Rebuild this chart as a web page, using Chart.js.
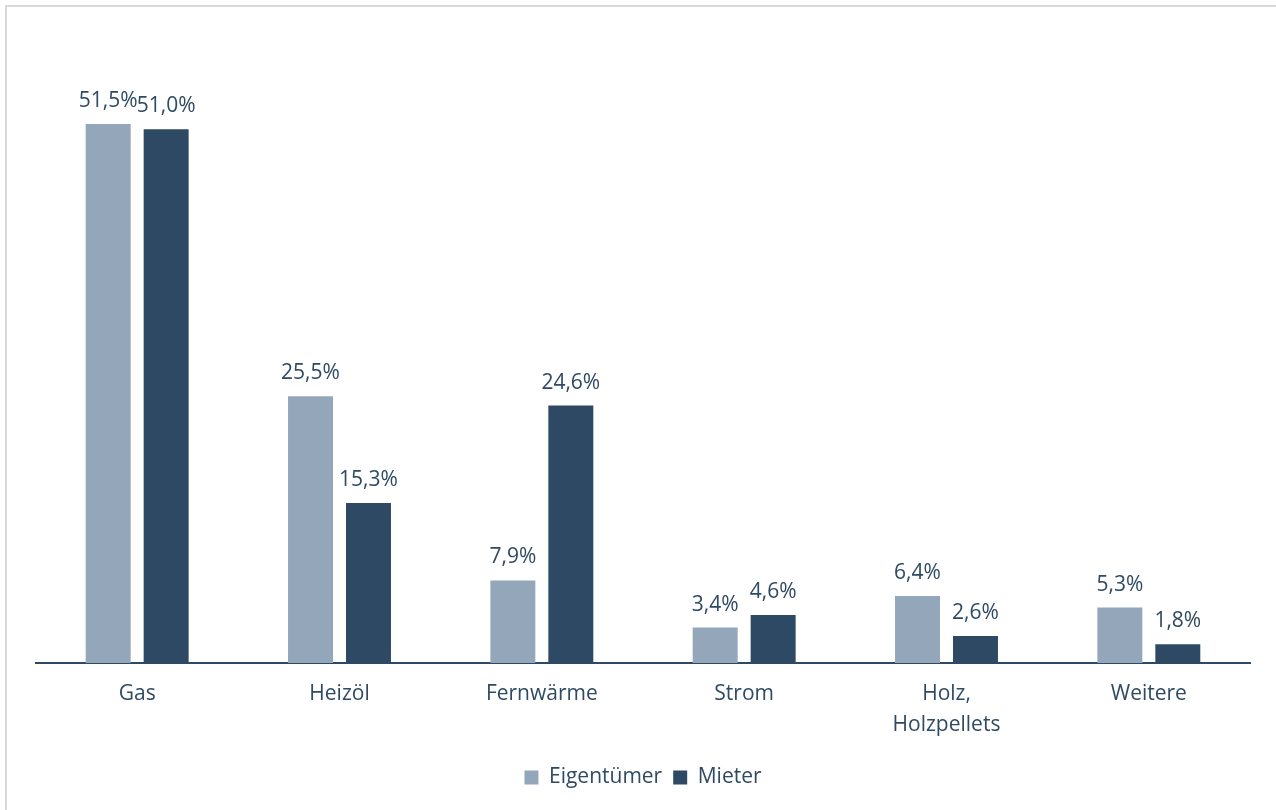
<!DOCTYPE html>
<html>
<head>
<meta charset="utf-8">
<script src="https://cdn.jsdelivr.net/npm/chart.js@4/dist/chart.umd.min.js"></script>
<style>
  html, body { margin: 0; padding: 0; background: #ffffff; overflow: hidden; }
  #frame { position: absolute; left: 5px; top: 5px; width: 1400px; height: 900px;
           border-left: 2px solid #d9d9d9; border-top: 2px solid #d9d9d9; }
  #wrap { position: absolute; left: 0; top: 0; width: 1276px; height: 810px; }
</style>
</head>
<body>
<div id="frame"></div>
<div id="wrap"><canvas id="c" width="1276" height="810"></canvas></div>
<script>
const categories = ['Gas', 'Heizöl', 'Fernwärme', 'Strom', ['Holz,', 'Holzpellets'], 'Weitere'];
const seriesNames = ['Eigentümer', 'Mieter'];
const eigentuemer = [51.5, 25.5, 7.9, 3.4, 6.4, 5.3];
const mieter = [51.0, 15.3, 24.6, 4.6, 2.6, 1.8];

const textColor = '#2f4a63';
const fontFamily = '"Open Sans", "DejaVu Sans", sans-serif';
const fontSize = 21;

const valueLabels = {
  id: 'valueLabels',
  afterDatasetsDraw(chart) {
    const ctx = chart.ctx;
    ctx.save();
    ctx.font = fontSize + 'px ' + fontFamily;
    ctx.fillStyle = textColor;
    ctx.textAlign = 'center';
    ctx.textBaseline = 'alphabetic';
    chart.data.datasets.forEach((ds, di) => {
      const meta = chart.getDatasetMeta(di);
      meta.data.forEach((el, i) => {
        const v = ds.data[i];
        const txt = v.toFixed(1).replace('.', ',') + '%';
        ctx.fillText(txt, el.x, el.y - 17);
      });
    });
    ctx.restore();
  }
};

new Chart(document.getElementById('c'), {
  type: 'bar',
  data: {
    labels: categories,
    datasets: [
      { label: seriesNames[0], data: eigentuemer, backgroundColor: '#94a7ba',
        categoryPercentage: 0.573, barPercentage: 0.776 },
      { label: seriesNames[1], data: mieter, backgroundColor: '#2e4963',
        categoryPercentage: 0.573, barPercentage: 0.776 }
    ]
  },
  options: {
    responsive: false,
    animation: false,
    devicePixelRatio: 1,
    layout: { padding: { left: 36, right: 26, top: 35, bottom: 12 } },
    scales: {
      y: { display: false, min: 0, max: 60 },
      x: {
        grid: { display: false, drawTicks: false },
        border: { display: true, color: '#2e4963', width: 2 },
        ticks: { color: textColor, font: { family: fontFamily, size: fontSize, lineHeight: 1.45 }, padding: 16, maxRotation: 0, autoSkip: false }
      }
    },
    plugins: {
      legend: {
        position: 'bottom',
        labels: { color: textColor, font: { family: fontFamily, size: fontSize }, boxWidth: 14, boxHeight: 14, padding: 11 }
      },
      tooltip: { enabled: false }
    }
  },
  plugins: [valueLabels]
});
</script>
</body>
</html>
